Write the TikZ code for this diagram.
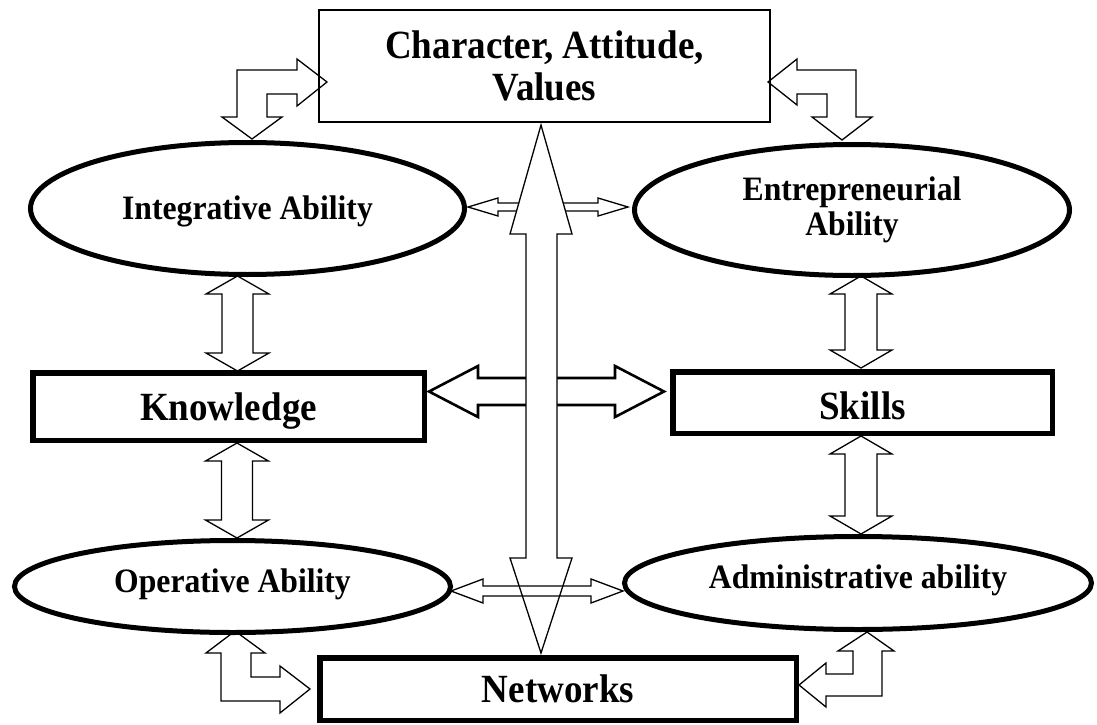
\documentclass[tikz,border=0pt]{standalone}
\usepackage{fontspec}
\setmainfont{Liberation Serif}[FakeStretch=0.926]
\usetikzlibrary{shapes.geometric}
% #1 style, #2 x, #3 y top tip, #4 y bottom tip, #5 shaft half width, #6 head half width, #7 head length
\newcommand{\VDA}[7]{\draw[#1] (#2,#3) -- ({#2+#6},{#3+#7}) -- ({#2+#5},{#3+#7}) -- ({#2+#5},{#4-#7}) -- ({#2+#6},{#4-#7}) -- (#2,#4) -- ({#2-#6},{#4-#7}) -- ({#2-#5},{#4-#7}) -- ({#2-#5},{#3+#7}) -- ({#2-#6},{#3+#7}) -- cycle;}
% #1 style, #2 y, #3 x left tip, #4 x right tip, #5 shaft half width, #6 head half width, #7 head length
\newcommand{\HDA}[7]{\draw[#1] (#3,#2) -- ({#3+#7},{#2-#6}) -- ({#3+#7},{#2-#5}) -- ({#4-#7},{#2-#5}) -- ({#4-#7},{#2-#6}) -- (#4,#2) -- ({#4-#7},{#2+#6}) -- ({#4-#7},{#2+#5}) -- ({#3+#7},{#2+#5}) -- ({#3+#7},{#2+#6}) -- cycle;}
\begin{document}
\begin{tikzpicture}[x=1pt,y=-1pt,
  boxfont/.style={font=\bfseries\fontsize{40}{42}\selectfont},
  ovalfont/.style={font=\bfseries\fontsize{34.2}{35}\selectfont},
  thinbox/.style={draw, line width=1.6pt, rectangle, inner sep=0pt, align=center, boxfont},
  thickbox/.style={draw, line width=5.5pt, rectangle, inner sep=0pt, text height=27pt, text depth=0pt, boxfont},
  oval/.style={draw, ellipse, line width=5pt, inner sep=0pt, align=center, ovalfont},
  onelineoval/.style={oval, text height=23pt},
  blockarrow/.style={draw, line width=1.3pt, fill=white, line join=miter},
  heavyarrow/.style={blockarrow, line width=2.6pt},
  openarrow/.style={draw, line width=1.3pt, line join=miter}]
\fill[white] (0,0) rectangle (1097,725);
\useasboundingbox (0,0) rectangle (1097,725);

% arrows behind the central one
\HDA{heavyarrow}{391.5}{429}{664}{13.5}{25.5}{49}
\HDA{blockarrow}{207}{468}{628}{4}{9}{30}
% central double arrow
\draw[blockarrow] (541,125) -- (572,234) -- (557,234) -- (557,558) -- (572,558) -- (541,653)
  -- (510,558) -- (526,558) -- (526,234) -- (510,234) -- cycle;
\HDA{openarrow}{591}{451}{623}{5}{12}{32}

% vertical double arrows
\VDA{blockarrow}{237.5}{276}{371}{15.5}{31.5}{18}
\VDA{blockarrow}{237}{443}{538}{15.5}{31.5}{18}
\VDA{blockarrow}{861}{276}{368}{16}{31}{18}
\VDA{blockarrow}{861}{436}{534}{16}{31}{18}

% bent arrows
\draw[blockarrow] (252,139) -- (282,117) -- (267,117) -- (267,94) -- (297,94) -- (297,106) -- (327,82)
  -- (297,59) -- (297,70) -- (237,70) -- (237,117) -- (222,117) -- cycle;
\draw[blockarrow] (842,140) -- (872,117) -- (856,117) -- (856,70) -- (797,70) -- (797,59) -- (768,82)
  -- (797,105) -- (797,94) -- (827,94) -- (827,117) -- (812,117) -- cycle;
\draw[blockarrow] (235,631) -- (265,653) -- (251,653) -- (251,677) -- (280,677) -- (280,666) -- (310,689)
  -- (280,713) -- (280,701) -- (221,701) -- (221,653) -- (206,653) -- cycle;
\draw[blockarrow] (867,632) -- (894,651) -- (882,651) -- (882,696) -- (826,696) -- (826,707) -- (799,685)
  -- (826,663) -- (826,674) -- (853,674) -- (853,651) -- (838,651) -- cycle;

% nodes
\node[thinbox, minimum width=451.5pt, minimum height=112.5pt] (cav) at (544.5,66) {Character, Attitude,\\Values};
\node[thickbox, minimum width=391.5pt, minimum height=67.5pt] (know) at (228.5,406.5) {Knowledge};
\node[thickbox, minimum width=379.5pt, minimum height=61.5pt, text height=34pt] (skill) at (862.5,402.5) {Skills};
\node[thickbox, minimum width=476.5pt, minimum height=62.5pt] (net) at (558,689) {Networks};
\node[onelineoval, minimum width=434pt, minimum height=132pt, text depth=2pt] (integ) at (247.5,208.5) {Integrative Ability};
\node[oval, minimum width=435pt, minimum height=131pt] (entre) at (852,210) {Entrepreneurial\\Ability};
\node[onelineoval, minimum width=436pt, minimum height=92pt, text depth=12pt] (oper) at (232.5,586.5) {Operative Ability};
\node[onelineoval, minimum width=467pt, minimum height=93pt, text depth=13pt] (admin) at (858,583) {Administrative ability};
\end{tikzpicture}
\end{document}
